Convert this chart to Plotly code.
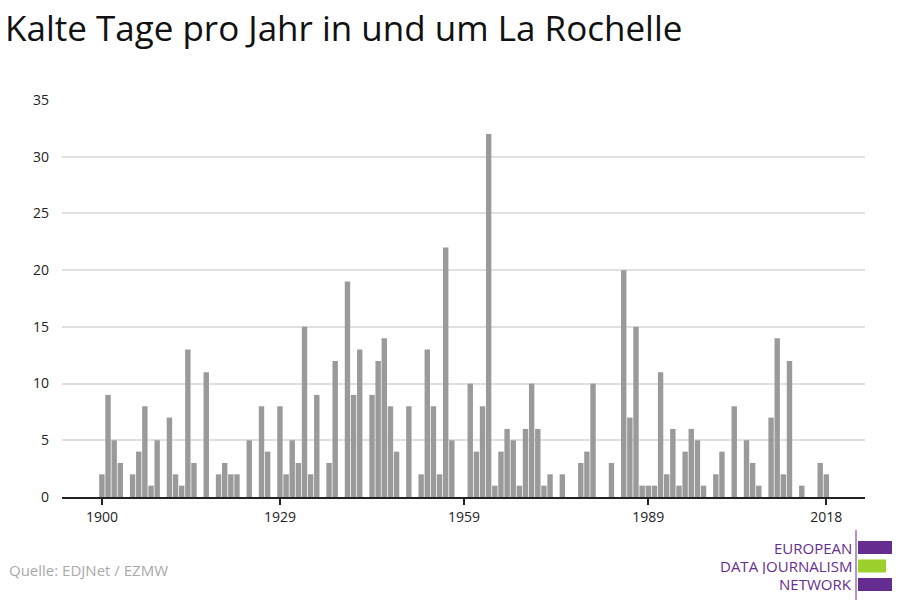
import plotly.graph_objects as go

years = list(range(1900, 2019))
values = [2,9,5,3,0,2,4,8,1,5, 0,7,2,1,13,3,0,11,0,2,
          3,2,2,0,5,0,8,4,0,8, 2,5,3,15,2,9,0,3,12,0,
          19,9,13,0,9,12,14,8,4,0, 8,0,2,13,8,2,22,5,0,0,
          10,4,8,32,1,4,6,5,1,6, 10,6,1,2,0,2,0,0,3,4,
          10,0,0,3,0,20,7,15,1,1, 1,11,2,6,1,4,6,5,1,0,
          2,4,0,8,0,5,3,1,0,7, 14,2,12,0,1,0,0,3,2]
xticks = [1900, 1929, 1959, 1989, 2018]
yticks = [0, 5, 10, 15, 20, 25, 30, 35]

OFF = 8
L, T, R, B = 62, 100, 865, 497
W, H = R - L, B - T
def px(x): return (x - L) / W
def py(y): return (B - y) / H

fig = go.Figure(go.Bar(x=years, y=values, marker_color="#9a9a9a", marker_line_width=0))
fig.update_layout(
    width=900, height=600, plot_bgcolor="white", paper_bgcolor="white",
    margin=dict(l=L - OFF, r=900 - (R - OFF), t=T - OFF, b=600 - (B - OFF)),
    bargap=0.12, showlegend=False,
    font=dict(family="Open Sans", color="#222"),
)
fig.add_annotation(text="Kalte Tage pro Jahr in und um La Rochelle", xref="paper", yref="paper",
                   x=px(3), y=py(27), xanchor="left", yanchor="middle", showarrow=False,
                   font=dict(size=35, color="#111"))
fig.update_xaxes(range=[1893.5, 2024.3], tickvals=xticks, showgrid=False,
                 showline=True, linecolor="#222", linewidth=2, ticks="outside",
                 tickcolor="#222", tickwidth=2, ticklen=6, tickfont=dict(size=14))
fig.update_yaxes(range=[0, 35], tickvals=yticks, showgrid=True, gridcolor="#e0e0e0",
                 gridwidth=1.5, zeroline=False, showline=False, tickfont=dict(size=14),
                 ticklabelstandoff=12)
fig.add_annotation(text="Quelle: EDJNet / EZMW", xref="paper", yref="paper",
                   x=px(7), y=py(570), xanchor="left", yanchor="middle",
                   showarrow=False, font=dict(size=15, color="#aaaaaa"))
purple = "#662d91"
for i, t in enumerate(["EUROPEAN", "DATA JOURNALISM", "NETWORK"]):
    fig.add_annotation(text=t, xref="paper", yref="paper", x=px(853),
                       y=py(548 + 18*i), xanchor="right", yanchor="middle",
                       showarrow=False, font=dict(size=15, color=purple),
                       borderpad=0, height=16)
for i, c in enumerate([purple, "#9bd12a", purple]):
    y0 = 541 + 18.5*i
    x1 = 910 if c == purple else 886
    fig.add_shape(type="rect", xref="paper", yref="paper", x0=px(858), x1=px(x1),
                  y0=py(y0), y1=py(y0 + 13), fillcolor=c, line_width=0)
fig.add_shape(type="line", xref="paper", yref="paper", x0=px(856), x1=px(856),
              y0=py(530), y1=py(600), line=dict(color=purple, width=1))
fig.write_html("out.html")
